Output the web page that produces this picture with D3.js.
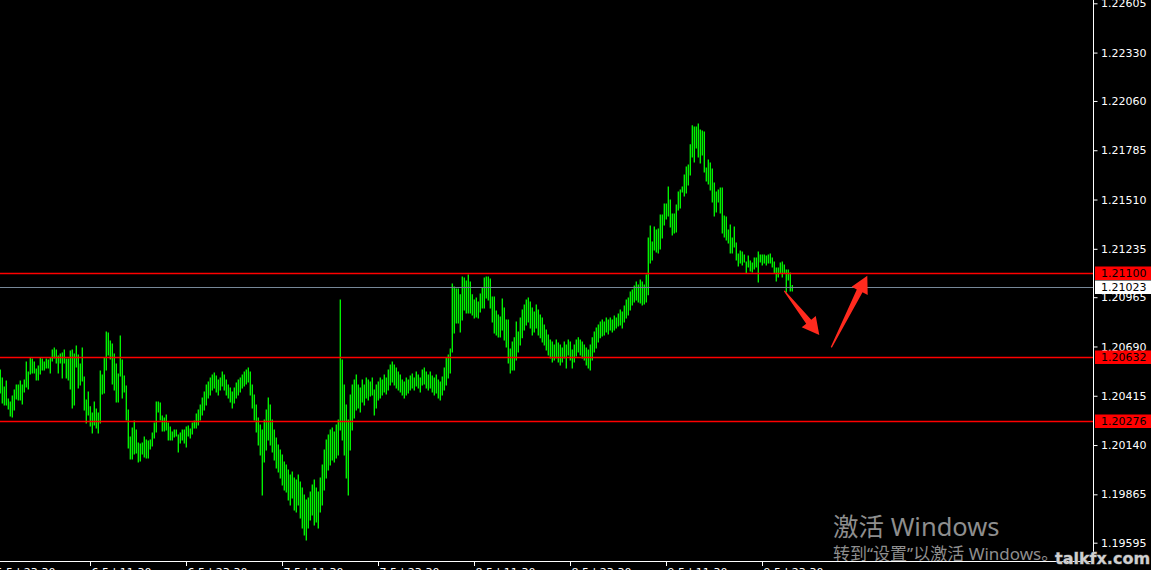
<!DOCTYPE html>
<html><head><meta charset="utf-8">
<script src="https://cdn.jsdelivr.net/npm/d3@7"></script>
<style>
html,body{margin:0;padding:0;background:#000;overflow:hidden;}
svg{display:block;}
</style></head>
<body>
<svg id="c" width="1151" height="570"></svg>
<script>
// ---- DATA (EURUSD M15 bar chart, high/low per bar) ----
const highs = [
1.20559,1.20514,1.20464,1.20497,1.20397,1.20380,1.20414,1.20447,1.20475,1.20475,
1.20497,1.20475,1.20503,1.20603,1.20548,1.20626,1.20620,1.20603,1.20564,1.20581,
1.20626,1.20620,1.20603,1.20620,1.20615,1.20626,1.20670,1.20682,1.20670,1.20637,
1.20648,1.20654,1.20670,1.20620,1.20620,1.20665,1.20670,1.20648,1.20693,1.20643,
1.20592,1.20682,1.20520,1.20391,1.20436,1.20353,1.20319,1.20380,1.20341,1.20319,
1.20553,1.20531,1.20626,1.20771,1.20765,1.20721,1.20704,1.20648,1.20592,1.20537,
1.20749,1.20615,1.20525,1.20470,1.20336,1.20185,1.20235,1.20274,1.20224,1.20151,
1.20146,1.20151,1.20185,1.20168,1.20163,1.20168,1.20207,1.20263,1.20380,1.20380,
1.20375,1.20302,1.20291,1.20308,1.20263,1.20241,1.20213,1.20224,1.20224,1.20196,
1.20207,1.20224,1.20224,1.20241,1.20246,1.20229,1.20263,1.20274,1.20313,
1.20336,1.20364,1.20403,1.20436,1.20475,1.20492,1.20514,1.20531,1.20542,1.20525,1.20503,
1.20514,1.20548,1.20531,1.20503,1.20475,1.20458,1.20436,1.20458,1.20486,1.20503,
1.20514,1.20531,1.20548,1.20559,1.20570,1.20548,1.20475,1.20419,1.20364,1.20291,
1.20252,1.20224,1.20280,1.20336,1.20403,1.20364,1.20280,1.20224,1.20179,1.20140,
1.20112,1.20084,1.20045,1.20029,1.20001,1.19973,1.19990,1.19956,1.19945,1.19973,
1.19934,1.19900,1.19861,1.19833,1.19845,1.19878,1.19917,1.19945,1.19900,1.19878,
1.19956,1.20029,1.20112,1.20168,1.20196,1.20224,1.20235,1.20213,1.20252,1.20280,
1.20949,1.20615,1.20475,1.20364,1.20280,1.20419,1.20475,1.20503,1.20531,1.20475,
1.20458,1.20503,1.20475,1.20514,1.20503,1.20492,1.20514,1.20447,1.20475,1.20492,
1.20514,1.20503,1.20531,1.20514,1.20559,1.20587,1.20603,1.20587,1.20570,1.20548,
1.20531,1.20503,1.20492,1.20514,1.20503,1.20525,1.20537,1.20514,1.20548,1.20531,
1.20514,1.20559,1.20570,1.20548,1.20531,1.20548,1.20525,1.20514,1.20531,1.20503,
1.20492,1.20520,1.20570,1.20626,1.20643,1.20676,1.21039,1.21022,1.21011,1.21011,
1.20978,1.21078,1.21072,1.21056,1.21089,1.21050,1.20978,1.20949,1.20961,1.20938,
1.20983,1.21017,1.21072,1.21078,1.21078,1.21067,1.20966,1.20966,1.20888,1.20866,
1.20855,1.20955,1.20905,1.20838,1.20838,1.20676,1.20715,1.20738,1.20827,1.20771,
1.20849,1.20894,1.20922,1.20949,1.20961,1.20938,1.20905,1.20882,1.20922,1.20894,
1.20866,1.20849,1.20810,1.20782,1.20754,1.20726,1.20715,1.20698,1.20726,1.20710,
1.20698,1.20682,1.20715,1.20698,1.20726,1.20715,1.20670,1.20698,1.20726,1.20738,
1.20726,1.20715,1.20698,1.20682,1.20670,1.20698,1.20738,1.20771,1.20793,1.20810,
1.20827,1.20838,1.20827,1.20849,1.20838,1.20849,1.20838,1.20860,1.20849,1.20871,
1.20894,1.20882,1.20916,1.20949,1.20961,1.20994,1.21005,1.21028,1.21050,1.21033,
1.21061,1.21050,1.21033,1.21089,1.21296,1.21362,1.21273,1.21357,1.21340,1.21346,
1.21424,1.21424,1.21485,1.21485,1.21580,1.21507,1.21429,1.21429,1.21480,1.21552,
1.21563,1.21580,1.21647,1.21692,1.21703,1.21815,1.21921,1.21915,1.21915,1.21932,
1.21898,1.21892,1.21887,1.21686,1.21731,1.21714,1.21680,1.21602,1.21552,1.21563,
1.21574,1.21574,1.21418,1.21413,1.21340,1.21368,1.21296,1.21357,1.21267,1.21206,
1.21223,1.21217,1.21201,1.21161,1.21195,1.21167,1.21156,1.21184,1.21184,1.21217,
1.21201,1.21201,1.21201,1.21195,1.21201,1.21206,1.21184,1.21161,1.21128,1.21128,
1.21156,1.21161,1.21145,1.21117,1.21117,1.21100,1.21030
];
const lows = [
1.20431,1.20375,1.20364,1.20364,1.20341,1.20302,1.20297,1.20336,1.20397,1.20391,
1.20391,1.20369,1.20436,1.20464,1.20453,1.20537,1.20542,1.20542,1.20503,1.20503,
1.20537,1.20559,1.20559,1.20570,1.20570,1.20542,1.20609,1.20626,1.20598,1.20542,
1.20598,1.20514,1.20598,1.20514,1.20503,1.20453,1.20347,1.20364,1.20576,1.20458,
1.20475,1.20497,1.20336,1.20263,1.20308,1.20246,1.20207,1.20252,1.20235,1.20207,
1.20263,1.20425,1.20431,1.20559,1.20643,1.20620,1.20481,1.20447,1.20380,1.20380,
1.20525,1.20403,1.20436,1.20280,1.20123,1.20062,1.20062,1.20090,1.20096,1.20045,
1.20051,1.20090,1.20073,1.20068,1.20068,1.20118,1.20135,1.20179,1.20213,1.20324,
1.20280,1.20218,1.20218,1.20224,1.20168,1.20168,1.20168,1.20185,1.20190,1.20101,
1.20151,1.20168,1.20151,1.20129,1.20190,1.20179,1.20202,1.20235,1.20235,
1.20252,1.20280,1.20308,1.20336,1.20364,1.20403,1.20419,1.20447,1.20458,1.20436,1.20419,
1.20447,1.20470,1.20447,1.20419,1.20403,1.20380,1.20347,1.20375,1.20403,1.20419,
1.20436,1.20458,1.20470,1.20481,1.20492,1.20419,1.20347,1.20280,1.20213,1.20140,
1.20084,1.19861,1.20045,1.20112,1.20168,1.20140,1.20101,1.20057,1.20012,1.19990,
1.19956,1.19917,1.19889,1.19878,1.19833,1.19805,1.19845,1.19778,1.19766,1.19805,
1.19733,1.19677,1.19638,1.19610,1.19677,1.19722,1.19750,1.19694,1.19711,1.19677,
1.19766,1.19805,1.19889,1.19956,1.20001,1.20029,1.20057,1.20045,1.20068,1.20084,
1.20224,1.20168,1.20084,1.19956,1.19861,1.20112,1.20224,1.20291,1.20336,1.20347,
1.20324,1.20380,1.20364,1.20403,1.20391,1.20414,1.20419,1.20308,1.20347,1.20391,
1.20403,1.20419,1.20436,1.20425,1.20447,1.20475,1.20492,1.20475,1.20458,1.20447,
1.20436,1.20419,1.20403,1.20419,1.20431,1.20447,1.20458,1.20447,1.20470,1.20458,
1.20436,1.20475,1.20481,1.20458,1.20447,1.20458,1.20436,1.20419,1.20431,1.20403,
1.20391,1.20419,1.20447,1.20475,1.20514,1.20542,1.20659,1.20765,1.20821,1.20821,
1.20771,1.20838,1.20894,1.20877,1.20877,1.20877,1.20866,1.20849,1.20855,1.20849,
1.20882,1.20905,1.20905,1.20961,1.20949,1.20905,1.20827,1.20765,1.20754,1.20743,
1.20743,1.20782,1.20726,1.20687,1.20598,1.20542,1.20559,1.20559,1.20615,1.20659,
1.20698,1.20738,1.20782,1.20810,1.20827,1.20793,1.20754,1.20771,1.20793,1.20754,
1.20738,1.20715,1.20698,1.20670,1.20643,1.20626,1.20603,1.20615,1.20626,1.20603,
1.20587,1.20603,1.20626,1.20570,1.20643,1.20615,1.20570,1.20603,1.20637,1.20659,
1.20643,1.20626,1.20615,1.20587,1.20570,1.20559,1.20615,1.20659,1.20682,1.20715,
1.20738,1.20749,1.20754,1.20771,1.20760,1.20782,1.20771,1.20782,1.20793,1.20804,
1.20810,1.20793,1.20827,1.20849,1.20866,1.20894,1.20922,1.20938,1.20949,1.20938,
1.20933,1.20922,1.20927,1.20938,1.20978,1.21156,1.21173,1.21228,1.21217,1.21212,
1.21234,1.21296,1.21368,1.21402,1.21418,1.21357,1.21312,1.21323,1.21329,1.21452,
1.21463,1.21552,1.21530,1.21546,1.21591,1.21647,1.21747,1.21719,1.21798,1.21747,
1.21714,1.21759,1.21664,1.21613,1.21597,1.21563,1.21496,1.21418,1.21440,1.21496,
1.21435,1.21323,1.21301,1.21284,1.21267,1.21212,1.21212,1.21245,1.21173,1.21139,
1.21156,1.21145,1.21161,1.21100,1.21134,1.21111,1.21106,1.21122,1.21134,1.21050,
1.21161,1.21145,1.21156,1.21145,1.21156,1.21156,1.21134,1.21100,1.21056,1.21078,
1.21100,1.21078,1.21100,1.20994,1.21061,1.21000,1.21000
];
const priceTicks = [1.22605,1.22330,1.22060,1.21785,1.21510,1.21235,1.20965,1.20690,1.20415,1.20140,1.19865,1.19595];
const levelPrices = [1.21100, 1.20632, 1.20276];
const currentPrice = 1.21023;
const timeLabels = ["5.5 | 23:30","6.5 | 11:30","6.5 | 23:30","7.5 | 11:30","7.5 | 23:30","8.5 | 11:30","8.5 | 23:30","9.5 | 11:30","9.5 | 23:30"];
const timeLabelBars = [-3, 45, 93, 141, 189, 237, 285, 333, 381];
// annotation arrows (bar index, price)
const arrowFromBar = [392, 415.5];
const arrowFromPrice = [1.21000, 1.20685];
const arrowToBar = [409.5, 433.5];
const arrowToPrice = [1.20754, 1.21085];

// ---- LAYOUT ----
const W = 1151, H = 570;
const axisX = 1093, axisY = 561;
const svg = d3.select("#c");
svg.append("rect").attr("width", W).attr("height", H).attr("fill", "#000");

const x = d3.scaleLinear().domain([0, 546]).range([0.3, 1092.3]);
const y = d3.scaleLinear().domain([d3.min(priceTicks), d3.max(priceTicks)]).range([542.7, 3.3]);

svg.append("clipPath").attr("id", "plot").append("rect").attr("x", 0).attr("y", 0).attr("width", axisX).attr("height", axisY);
const plot = svg.append("g").attr("clip-path", "url(#plot)");

// bars
const bars = highs.map((h, i) => ({i, h, l: lows[i]}));
plot.selectAll("line.bar").data(bars).enter().append("line")
  .attr("class", "bar")
  .attr("x1", d => x(d.i)).attr("x2", d => x(d.i))
  .attr("y1", d => y(d.h) - 0.5).attr("y2", d => y(d.l) + 0.5)
  .attr("stroke", "#00ff00").attr("stroke-width", 1.3);

// horizontal levels
plot.selectAll("line.lvl").data(levelPrices).enter().append("line")
  .attr("class", "lvl")
  .attr("x1", 0).attr("x2", axisX)
  .attr("y1", d => Math.round(y(d)) + 0.5).attr("y2", d => Math.round(y(d)) + 0.5)
  .style("stroke", "#ff0000").style("stroke-width", "1.7px");
plot.append("line")
  .attr("x1", 0).attr("x2", axisX)
  .attr("y1", Math.round(y(currentPrice)) + 0.5).attr("y2", Math.round(y(currentPrice)) + 0.5)
  .style("stroke", "#778899").style("stroke-width", "1px");

// arrows
function arrowPath(tx, ty, px, py) {
  const dx = px - tx, dy = py - ty, len = Math.hypot(dx, dy);
  const ux = dx / len, uy = dy / len, nx = -uy, ny = ux;
  const hl = 17, hw = 9, sw = 3.2, tw = 0.6;
  const bx = px - ux * hl, by = py - uy * hl;
  const pts = [
    [tx + nx * tw, ty + ny * tw], [bx + nx * sw, by + ny * sw], [bx + nx * hw, by + ny * hw],
    [px, py], [bx - nx * hw, by - ny * hw], [bx - nx * sw, by - ny * sw], [tx - nx * tw, ty - ny * tw]
  ];
  return "M" + pts.map(p => p[0].toFixed(2) + "," + p[1].toFixed(2)).join("L") + "Z";
}
plot.selectAll("path.arrow").data(arrowFromBar).enter().append("path")
  .attr("class", "arrow")
  .attr("d", (d, k) => arrowPath(x(arrowFromBar[k]), y(arrowFromPrice[k]), x(arrowToBar[k]), y(arrowToPrice[k])))
  .attr("fill", "#ff2a1e");

// watermark
const wm = svg.append("g").attr("font-family", "'Noto Sans','Noto Sans CJK SC',sans-serif").attr("fill", "#8e8e8e");
wm.append("text").attr("x", 833).attr("y", 536).attr("font-size", 25.5).text("激活 Windows");
wm.append("text").attr("x", 833).attr("y", 560).attr("font-size", 17).text("转到“设置”以激活 Windows。");

// right axis
const yAxis = d3.axisRight(y).tickValues(priceTicks).tickSize(4).tickPadding(4).tickFormat(d3.format(".5f"));
const ga = svg.append("g").attr("transform", `translate(${axisX + 0.5},0)`).call(yAxis);
ga.select(".domain").remove();
ga.selectAll(".tick line").attr("stroke", "#fff");
ga.selectAll(".tick text").attr("fill", "#fff").attr("font-family", "'DejaVu Sans',sans-serif").attr("font-size", 11).attr("x", 7.5);
svg.append("line").attr("x1", axisX + 0.5).attr("x2", axisX + 0.5).attr("y1", 0).attr("y2", axisY + 0.5).attr("stroke", "#fff");

// bottom axis
svg.append("line").attr("x1", 0).attr("x2", axisX + 0.5).attr("y1", axisY + 0.5).attr("y2", axisY + 0.5).attr("stroke", "#fff");
const xt = svg.append("g");
timeLabelBars.forEach((b, k) => {
  const tx = Math.round(x(b)) + 0.5;
  xt.append("line").attr("x1", tx).attr("x2", tx).attr("y1", axisY).attr("y2", axisY + 5).attr("stroke", "#fff");
  xt.append("text").attr("x", tx + 1).attr("y", 575.5).attr("fill", "#fff")
    .attr("font-family", "'DejaVu Sans',sans-serif").attr("font-size", 11).text(timeLabels[k]);
});

// price labels on axis
const boxes = levelPrices.map(p => ({p, bg: "#ff0000"})).concat([{p: currentPrice, bg: "#ffffff"}]);
const bl = svg.append("g");
boxes.forEach(b => {
  const cy = y(b.p);
  bl.append("rect").attr("x", axisX + 2).attr("y", Math.round(cy) - 6.5).attr("width", W - axisX - 2).attr("height", 13.5).attr("fill", b.bg);
  bl.append("text").attr("x", axisX + 8).attr("y", cy).attr("dy", "0.36em").attr("fill", "#000")
    .attr("font-family", "'DejaVu Sans',sans-serif").attr("font-size", 11).text(d3.format(".5f")(b.p));
});

// site logo
svg.append("text").attr("x", 1055).attr("y", 564).attr("font-family", "'DejaVu Sans',sans-serif")
  .attr("font-weight", "bold").attr("font-size", 16).attr("fill", "#cfcfcf")
  .attr("stroke", "#555").attr("stroke-width", 0.8).attr("paint-order", "stroke").text("talkfx.com");
</script>
</body></html>
